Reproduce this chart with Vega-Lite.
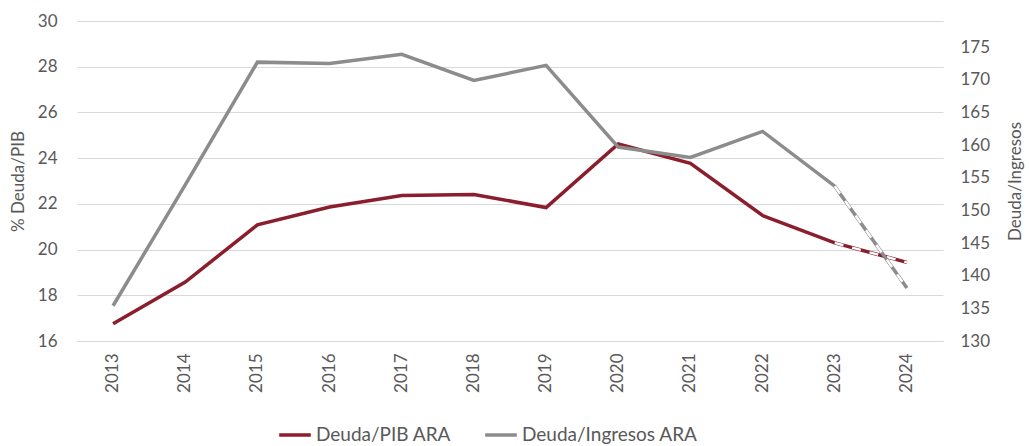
{
  "$schema": "https://vega.github.io/schema/vega-lite/v6.json",
  "width": 866,
  "height": 320,
  "autosize": {"type": "none"},
  "padding": {"left": 77, "top": 21, "right": 86, "bottom": 105},
  "background": "white",
  "config": {
    "font": "Lato",
    "view": {"stroke": null},
    "axis": {"labelFont": "Lato", "titleFont": "Lato", "labelColor": "#595959", "titleColor": "#595959", "labelFontSize": 17, "titleFontSize": 17, "titleFontWeight": "normal", "gridColor": "#d9d9d9", "gridWidth": 1.2, "domain": false, "ticks": false},
    "legend": {"labelFont": "Lato", "labelFontSize": 19, "labelColor": "#595959", "labelLimit": 400}
  },
  "datasets": {
    "d": [
      {"year": "2013", "series": "Deuda/PIB ARA", "value": 16.75},
      {"year": "2014", "series": "Deuda/PIB ARA", "value": 18.58},
      {"year": "2015", "series": "Deuda/PIB ARA", "value": 21.08},
      {"year": "2016", "series": "Deuda/PIB ARA", "value": 21.86},
      {"year": "2017", "series": "Deuda/PIB ARA", "value": 22.37},
      {"year": "2018", "series": "Deuda/PIB ARA", "value": 22.41},
      {"year": "2019", "series": "Deuda/PIB ARA", "value": 21.84},
      {"year": "2020", "series": "Deuda/PIB ARA", "value": 24.62},
      {"year": "2021", "series": "Deuda/PIB ARA", "value": 23.77},
      {"year": "2022", "series": "Deuda/PIB ARA", "value": 21.49},
      {"year": "2023", "series": "Deuda/PIB ARA", "value": 20.29},
      {"year": "2024", "series": "Deuda/PIB ARA", "value": 19.44},
      {"year": "2013", "series": "Deuda/Ingresos ARA", "value": 135.4},
      {"year": "2014", "series": "Deuda/Ingresos ARA", "value": 153.9},
      {"year": "2015", "series": "Deuda/Ingresos ARA", "value": 172.7},
      {"year": "2016", "series": "Deuda/Ingresos ARA", "value": 172.5},
      {"year": "2017", "series": "Deuda/Ingresos ARA", "value": 173.9},
      {"year": "2018", "series": "Deuda/Ingresos ARA", "value": 169.9},
      {"year": "2019", "series": "Deuda/Ingresos ARA", "value": 172.2},
      {"year": "2020", "series": "Deuda/Ingresos ARA", "value": 159.7},
      {"year": "2021", "series": "Deuda/Ingresos ARA", "value": 158.1},
      {"year": "2022", "series": "Deuda/Ingresos ARA", "value": 162.1},
      {"year": "2023", "series": "Deuda/Ingresos ARA", "value": 153.7},
      {"year": "2024", "series": "Deuda/Ingresos ARA", "value": 138.1}
    ]
  },
  "data": {"name": "d"},
  "encoding": {
    "x": {"field": "year", "type": "ordinal", "title": null, "scale": {"type": "band", "paddingInner": 0, "paddingOuter": 0},
      "axis": {"labelAngle": -90, "labelPadding": 12, "grid": false, "domain": true, "domainColor": "#d9d9d9", "domainWidth": 1.2, "labelBaseline": "middle", "labelAlign": "right"}}
  },
  "layer": [
    {
      "transform": [{"filter": "datum.series === 'Deuda/PIB ARA'"}],
      "encoding": {
        "y": {"field": "value", "type": "quantitative", "title": "% Deuda/PIB",
          "scale": {"domain": [16, 30], "nice": false, "zero": false},
          "axis": {"values": [16, 18, 20, 22, 24, 26, 28, 30], "labelPadding": 20, "orient": "left", "titleX": -59, "titleY": 160, "titleAngle": 270, "titleBaseline": "middle", "titleAlign": "center"}},
        "color": {"field": "series", "type": "nominal", "title": null,
          "scale": {"domain": ["Deuda/PIB ARA", "Deuda/Ingresos ARA"], "range": ["#8B1E2D", "#8C8C8C"]},
          "legend": {"orient": "none", "legendX": 200, "legendY": 396, "direction": "horizontal", "symbolType": "stroke", "symbolStrokeWidth": 3.5, "symbolSize": 1000, "columnPadding": 26, "labelOffset": 3, "labelLimit": 400}}
      },
      "layer": [
        {"mark": {"type": "line", "strokeWidth": 3.5, "interpolate": "linear"}},
        {"transform": [{"filter": "datum.year >= '2023'"}],
         "mark": {"type": "line", "strokeWidth": 2.4, "strokeDash": [9, 9]}, "encoding": {"color": {"value": "white"}}}
      ]
    },
    {
      "transform": [{"filter": "datum.series === 'Deuda/Ingresos ARA'"}],
      "encoding": {
        "y": {"field": "value", "type": "quantitative", "title": "Deuda/Ingresos",
          "scale": {"domain": [130, 179], "nice": false, "zero": false},
          "axis": {"orient": "right", "values": [130, 135, 140, 145, 150, 155, 160, 165, 170, 175], "grid": false, "labelPadding": 17, "titleX": 72, "titleY": 160, "titleAngle": 270, "titleBaseline": "middle", "titleAlign": "center"}},
        "color": {"field": "series", "type": "nominal", "title": null,
          "scale": {"domain": ["Deuda/PIB ARA", "Deuda/Ingresos ARA"], "range": ["#8B1E2D", "#8C8C8C"]}}
      },
      "layer": [
        {"mark": {"type": "line", "strokeWidth": 3.5}},
        {"transform": [{"filter": "datum.year >= '2023'"}],
         "mark": {"type": "line", "strokeWidth": 2.4, "strokeDash": [9, 9]}, "encoding": {"color": {"value": "white"}}}
      ]
    }
  ],
  "resolve": {"scale": {"y": "independent"}}
}
